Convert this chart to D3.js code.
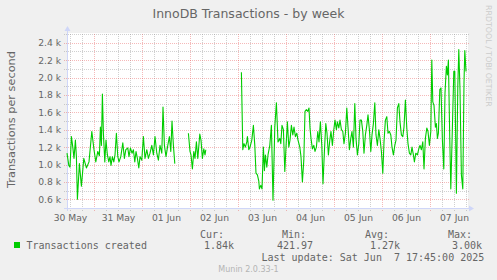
<!DOCTYPE html>
<html>
<head>
<meta charset="utf-8">
<script src="https://cdn.jsdelivr.net/npm/d3@7"></script>
<style>
  body { margin: 0; background: #f0f0f0; }
  text { font-family: "DejaVu Sans", sans-serif; fill: #666; }
  .mono { font-family: "DejaVu Sans Mono", monospace; white-space: pre; }
</style>
</head>
<body>
<svg id="chart"></svg>
<script>
// chart texts
const title = "InnoDB Transactions - by week";
const yLabel = "Transactions per second";
const seriesName = "Transactions created";
const statNames = ["Cur:", "Min:", "Avg:", "Max:"];
const statValues = ["1.84k", "421.97", "1.27k", "3.00k"];
const lastUpdate = "Last update: Sat Jun  7 17:45:00 2025";
const footer = "Munin 2.0.33-1";
const watermark = "RRDTOOL / TOBI OETIKER";

// time window (UTC) and y range, values in thousands
const startTime = Date.UTC(2025, 4, 30, 10, 30);
const endTime = Date.UTC(2025, 5, 7, 18, 30);
const yMin = 0.5, yMax = 2.5;
const yMajor = [0.6, 0.8, 1.0, 1.2, 1.4, 1.6, 1.8, 2.0, 2.2, 2.4];

// hours since 30 May 00:00 UTC, and transactions/s (k); null = no data
const hours = [
  10.5, 11.4, 12.0, 12.7, 13.4, 14.0, 14.7, 15.2, 15.7, 16.7, 17.7, 18.9, 20.2, 21.5, 22.9,
  24.0, 24.9, 25.9, 26.7, 27.2, 27.7, 28.2, 28.7, 29.4, 30.0, 30.7, 31.4, 32.0, 32.5, 33.2,
  33.9, 34.5, 35.2, 35.9, 36.5, 37.4, 38.4, 39.2, 39.9, 40.9, 41.5, 42.2, 43.0, 43.7, 44.4,
  45.0, 45.7, 46.4, 47.0, 47.9, 48.7, 49.5, 50.4, 51.2, 52.0, 52.9, 53.7, 54.5, 55.4, 56.2,
  57.0, 57.9, 58.5, 59.2, 60.0, 60.9, 61.7, 62.4, 63.0, 63.7, 64.4,
  67.0,
  71.2, 72.0, 72.5, 73.2, 73.9, 74.5, 75.2, 75.9, 76.9, 77.5, 78.2, 78.9, 79.5, 79.9,
  88.0,
  97.7, 98.4, 99.0, 99.7, 100.4, 100.7, 101.4, 102.0, 102.9, 103.7, 104.4, 105.0, 105.7, 106.4,
  106.7, 107.4, 108.0, 108.7, 109.2, 109.7, 110.4, 111.0, 111.9, 112.7, 113.5, 114.4, 115.2,
  116.0, 116.9, 117.4, 118.0, 118.7, 119.4, 120.0, 120.7, 121.4, 122.0, 122.7, 123.4, 124.0,
  124.7, 125.4, 126.0, 126.9, 127.5, 128.2, 128.9, 129.5, 130.2, 130.9, 131.5, 132.0, 132.5,
  133.2, 133.9, 134.5, 135.2, 135.9, 136.5, 137.2, 137.9, 138.5, 139.2, 139.9, 140.5, 141.2,
  141.9, 142.5, 143.2, 143.9, 144.5, 145.2, 145.7, 146.4, 147.0, 147.7, 148.4, 149.0, 149.7,
  150.4, 151.0, 151.7, 152.4, 153.0, 153.7, 154.4, 155.0, 155.7, 156.4, 157.0, 157.7, 158.4,
  159.0, 159.7, 160.4, 161.0, 161.7, 162.4, 163.0, 163.7, 164.4, 165.0, 165.7, 166.4, 167.0,
  167.7, 168.4, 169.0, 169.7, 170.4, 171.0, 171.7, 172.4, 173.0, 173.7, 174.4, 175.0, 175.7,
  176.4, 177.0, 177.7, 178.4, 179.0, 179.7, 180.4, 181.0, 181.7, 182.4, 183.0, 183.7, 184.2,
  184.9, 185.7, 186.4, 187.0, 187.7, 188.4, 189.0, 189.7, 190.4, 191.0, 191.7, 192.4, 192.9,
  193.4, 194.0, 194.7, 195.2, 195.7, 196.2, 196.9, 197.5, 198.2, 198.9, 199.5, 200.2, 200.7,
  201.2, 201.9, 202.4, 203.2, 203.9, 204.4, 205.2, 205.9, 206.4, 207.0, 207.7, 208.4, 209.0,
  209.4, 210.0
];
const values = [
  1.13, 0.99, 0.97, 1.32, 1.20, 1.07, 1.28, 1.09, 0.60, 1.01, 0.75, 1.07, 0.96, 1.03, 1.38,
  1.17, 1.03, 1.15, 1.10, 1.43, 1.22, 1.81, 1.36, 1.03, 1.28, 1.11, 1.03, 1.09, 0.99, 1.09,
  1.03, 1.11, 1.36, 1.09, 1.03, 1.09, 1.25, 1.07, 1.17, 1.19, 1.09, 1.19, 1.13, 1.17, 1.03,
  1.15, 1.07, 0.96, 1.09, 1.05, 1.32, 1.07, 1.17, 1.07, 1.13, 1.22, 1.11, 1.32, 1.13, 1.05,
  1.22, 1.13, 1.66, 1.22, 1.09, 1.22, 1.32, 1.15, 1.50, 1.22, 1.01,
  null,
  1.36, 1.15, 1.11, 0.95, 1.15, 1.07, 1.26, 1.07, 1.35, 1.28, 1.07, 1.18, 1.11, 1.17,
  null,
  2.06, 1.17, 1.24, 1.20, 1.26, 1.32, 1.17, 1.20, 1.28, 1.45, 1.22, 0.90, 0.88, 0.81,
  0.72, 0.76, 0.72, 1.20, 0.93, 1.11, 0.97, 1.11, 1.22, 1.45, 0.59, 1.43, 1.71,
  1.26, 1.30, 1.24, 1.45, 1.40, 0.92, 1.20, 1.49, 1.20, 1.28, 1.45, 1.34, 1.43,
  1.32, 1.36, 1.28, 1.20, 1.09, 0.80, 1.05, 1.61, 1.63, 1.61, 1.65, 1.42, 1.30,
  1.18, 1.22, 1.15, 1.20, 1.38, 1.26, 1.49, 1.22, 0.78, 1.15, 1.47, 1.36, 1.11,
  1.28, 1.38, 1.22, 1.40, 1.51, 1.40, 1.49, 1.42, 1.51, 1.40, 1.38, 1.24, 1.36,
  1.65, 1.43, 1.17, 1.30, 1.38, 1.20, 1.70, 1.30, 1.11, 1.24, 1.51, 1.51, 1.38,
  1.13, 1.34, 1.45, 1.57, 1.40, 1.15, 1.34, 1.47, 1.71, 1.34, 1.22, 1.40, 1.30,
  1.15, 0.90, 1.26, 1.51, 1.55, 1.36, 1.38, 1.34, 1.20, 1.11, 1.22, 1.28, 1.65,
  1.70, 1.49, 1.34, 1.32, 1.43, 1.74, 1.42, 1.24, 1.13, 1.11, 1.20, 1.11, 1.03,
  1.13, 1.11, 1.18, 1.22, 1.17, 1.26, 0.95, 1.30, 1.42, 1.38, 1.22, 1.38, 2.20,
  1.72, 1.68, 1.43, 1.47, 1.30, 1.36, 1.86, 1.88, 1.28, 0.95, 1.82, 2.13, 2.03,
  2.20, 1.28, 0.72, 1.43, 2.07, 2.07, 0.67, 1.90, 2.32, 1.86, 0.88, 0.72, 1.94,
  2.31, 2.07
];

const W = 497, H = 280;
const plotLeft = 67, plotRight = 467, plotTop = 34, plotBottom = 208;

const svg = d3.select("#chart").attr("width", W).attr("height", H);
svg.append("rect").attr("width", W).attr("height", H).attr("fill", "#f0f0f0");

const x = d3.scaleUtc().domain([startTime, endTime]).range([plotLeft, plotRight]);
const y = d3.scaleLinear().domain([yMin, yMax]).range([plotBottom, plotTop]);

// canvas
svg.append("rect")
  .attr("x", plotLeft).attr("y", plotTop - 1)
  .attr("width", plotRight - plotLeft + 1).attr("height", plotBottom - plotTop + 1)
  .attr("fill", "#fff");

const gridColor = "rgba(143,143,143,0.42)";
const mgridColor = "rgba(230,80,80,0.4)";

// grid
const days = d3.utcDay.range(new Date(startTime), new Date(endTime));
const sixHours = d3.utcHour.every(6).range(new Date(startTime), new Date(endTime))
  .filter(d => d.getUTCHours() !== 0);
const yMinor = d3.range(5, 26).map(i => i / 10).filter(v => !yMajor.some(m => Math.abs(m - v) < 1e-6));

function grid(axis, tr, color) {
  const g = svg.append("g").attr("transform", tr).call(axis);
  g.select(".domain").remove();
  g.selectAll("line").attr("stroke", color).attr("stroke-dasharray", "1,1")
    .attr("shape-rendering", "crispEdges");
  return g;
}
const gridH = plotBottom + 3 - plotTop;
const gridW = plotRight + 2 - plotLeft + 3;
grid(d3.axisBottom(x).tickValues(sixHours).tickSize(-gridH).tickFormat(""),
  `translate(0,${plotBottom + 3})`, gridColor);
grid(d3.axisLeft(y).tickValues(yMinor).tickSize(-gridW).tickFormat(""),
  `translate(${plotLeft - 3},0)`, gridColor);
grid(d3.axisBottom(x).tickValues(days).tickSize(-gridH).tickFormat(""),
  `translate(0,${plotBottom + 3})`, mgridColor);
grid(d3.axisLeft(y).tickValues(yMajor).tickSize(-gridW).tickFormat(""),
  `translate(${plotLeft - 3},0)`, mgridColor);

// tick labels
const yAxis = svg.append("g").attr("transform", `translate(${plotLeft},0)`)
  .call(d3.axisLeft(y).tickValues(yMajor).tickSize(0).tickPadding(6)
    .tickFormat(d => d.toFixed(1) + " k"));
yAxis.select(".domain").remove();
yAxis.selectAll("text").style("font-size", "9.2px").attr("fill", "#666");

const noons = d3.utcDay.range(new Date(Date.UTC(2025, 4, 30)), new Date(endTime))
  .map(d => d3.utcHour.offset(d, 12))
  .filter(d => d >= startTime && d <= endTime);
const xAxis = svg.append("g").attr("transform", `translate(0,${plotBottom})`)
  .call(d3.axisBottom(x).tickValues(noons).tickSize(0).tickPadding(6)
    .tickFormat(d3.utcFormat("%d %b")));
xAxis.select(".domain").remove();
xAxis.selectAll("text").style("font-size", "9.2px").attr("fill", "#666");

// axis lines with arrows
const axisColor = "#CFD6F8";
svg.append("line").attr("x1", plotLeft - 3).attr("x2", plotRight + 4)
  .attr("y1", plotBottom + 0.5).attr("y2", plotBottom + 0.5).attr("stroke", axisColor);
svg.append("line").attr("x1", plotLeft + 0.5).attr("x2", plotLeft + 0.5)
  .attr("y1", plotBottom + 3).attr("y2", plotTop - 4).attr("stroke", axisColor);
svg.append("path")
  .attr("d", `M${plotRight + 7},${plotBottom + 0.5}L${plotRight + 2},${plotBottom - 2.5}L${plotRight + 2},${plotBottom + 3.5}Z`)
  .attr("fill", axisColor);
svg.append("path")
  .attr("d", `M${plotLeft + 0.5},${plotTop - 8}L${plotLeft - 2.5},${plotTop - 3}L${plotLeft + 3.5},${plotTop - 3}Z`)
  .attr("fill", axisColor);

// series
const data = hours.map((h, i) => ({ t: Date.UTC(2025, 4, 30) + h * 3600e3, v: values[i] }));
const line = d3.line()
  .defined(d => d.v != null)
  .x(d => x(d.t))
  .y(d => y(d.v));
svg.append("path").datum(data)
  .attr("d", line)
  .attr("fill", "none")
  .attr("stroke", "#00cc00")
  .attr("stroke-width", 1.1)
  .attr("stroke-linejoin", "round");

// title and labels
svg.append("text").attr("x", 248.5).attr("y", 18).attr("text-anchor", "middle")
  .style("font-size", "12.5px").text(title);
svg.append("text").attr("transform", "translate(15,119.5) rotate(-90)").attr("text-anchor", "middle")
  .style("font-size", "11.3px").text(yLabel);
svg.append("text").attr("transform", "translate(486,5) rotate(90)")
  .style("font-size", "7.9px").style("fill", "#cccccc").text(watermark);

// legend
const statX = [200, 282, 365, 448];
const valX = [204, 277, 370, 452];
svg.append("rect").attr("x", 14).attr("y", 242).attr("width", 6).attr("height", 6).attr("fill", "#00cc00");
svg.append("text").attr("class", "mono").attr("x", 26.5).attr("y", 249).style("font-size", "10px").text(seriesName);
svg.selectAll(".hdr").data(statNames).enter().append("text")
  .attr("class", "mono hdr").attr("x", (d, i) => statX[i]).attr("y", 237.5)
  .style("font-size", "10px").text(d => d);
svg.selectAll(".val").data(statValues).enter().append("text")
  .attr("class", "mono val").attr("x", (d, i) => valX[i]).attr("y", 249)
  .style("font-size", "10px").text(d => d);
svg.append("text").attr("class", "mono").attr("x", 261.5).attr("y", 260.5)
  .style("font-size", "10px").text(lastUpdate);
svg.append("text").attr("x", 248.5).attr("y", 272).attr("text-anchor", "middle")
  .style("font-size", "8px").style("fill", "#b4b4b4").text(footer);
</script>
</body>
</html>
